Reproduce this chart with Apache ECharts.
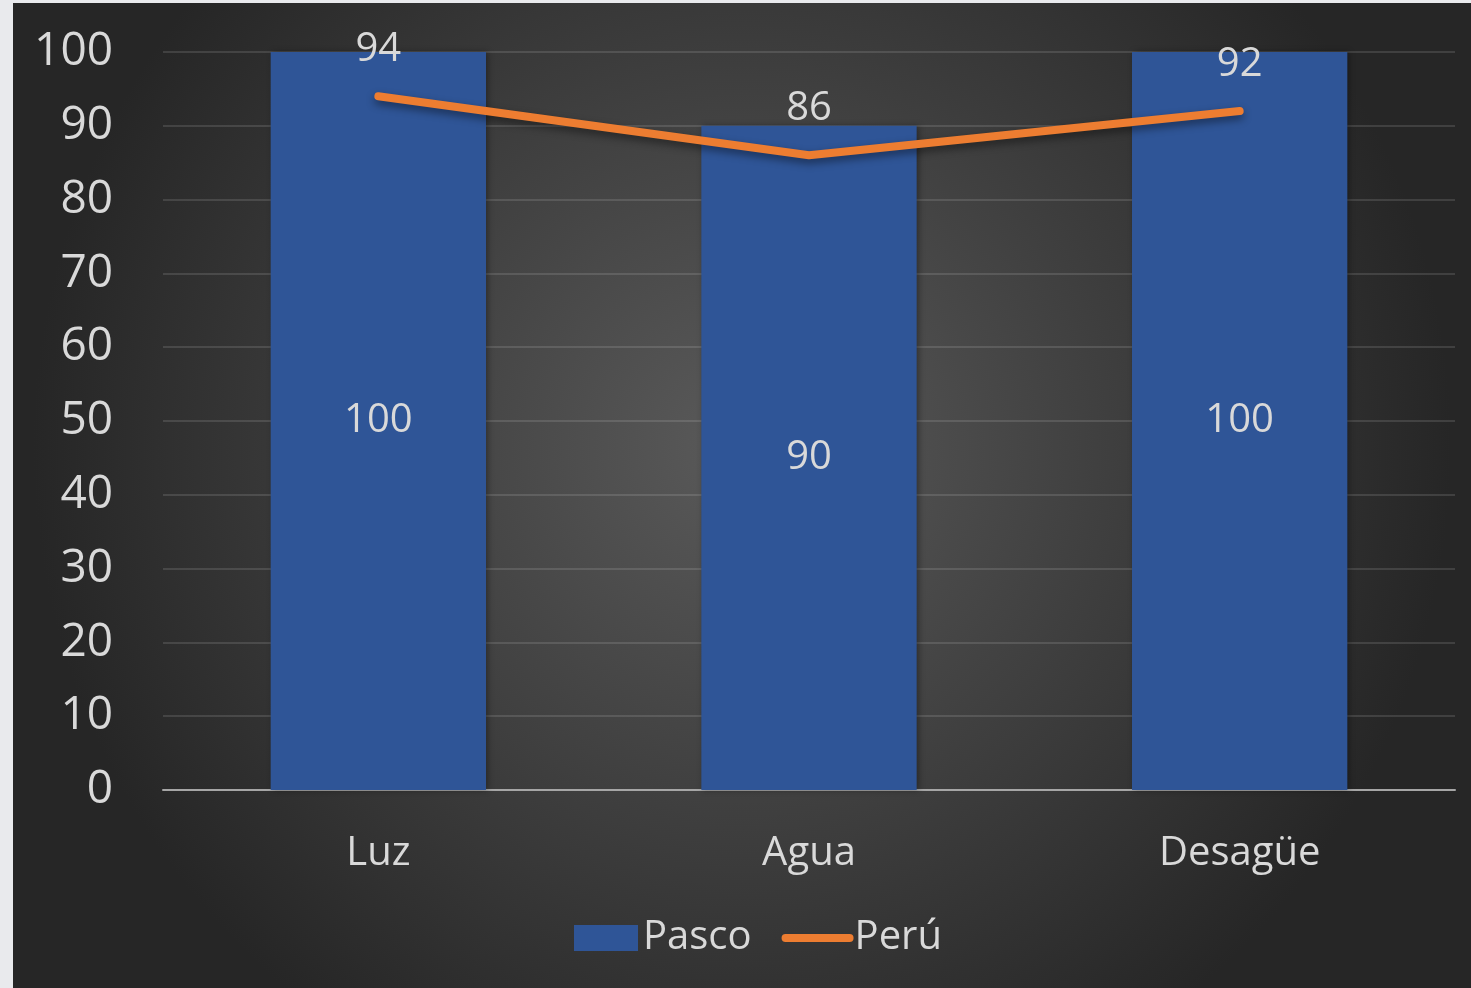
<!DOCTYPE html>
<html>
<head>
<meta charset="utf-8">
<script src="https://cdn.jsdelivr.net/npm/echarts@6/dist/echarts.min.js"></script>
<style>
html,body{margin:0;padding:0;background:#e9eaed;width:1471px;height:988px;overflow:hidden;}
#chart{position:absolute;left:13px;top:3px;width:1458px;height:985px;}
</style>
</head>
<body>
<div id="chart"></div>
<script>
const categories = ['Luz', 'Agua', 'Desagüe'];
const pascoValues = [100, 90, 100];
const peruValues = [94, 86, 92];
const seriesNames = ['Pasco', 'Perú'];

const FONT = '"Open Sans", sans-serif';
const TXT = '#d9d9d9';
const ORANGE = '#ed7d31';
const chart = echarts.init(document.getElementById('chart'));
chart.setOption({
  animation: false,
  backgroundColor: {
    type: 'radial', x: 0.5, y: 0.45, r: 0.72,
    colorStops: [{offset: 0, color: '#5a5a5a'}, {offset: 1, color: '#262626'}]
  },
  textStyle: {fontFamily: FONT},
  grid: {left: 150, right: 16, top: 49, bottom: 198, containLabel: false},
  legend: {
    data: [
      {name: seriesNames[0], icon: 'rect'},
      {name: seriesNames[1], lineStyle: {width: 8, color: ORANGE, cap: 'round'},
        itemStyle: {color: 'rgba(0,0,0,0)', borderWidth: 0, opacity: 0}}
    ],
    bottom: 25, left: 556,
    itemWidth: 64, itemHeight: 26, itemGap: 30,
    textStyle: {color: TXT, fontSize: 40, fontFamily: FONT}
  },
  xAxis: {
    type: 'category', data: categories,
    axisLine: {lineStyle: {color: '#a6a6a6', width: 2}},
    axisTick: {show: false},
    axisLabel: {color: TXT, fontSize: 40, margin: 44, fontFamily: FONT}
  },
  yAxis: {
    type: 'value', min: 0, max: 100, interval: 10,
    axisLine: {show: false}, axisTick: {show: false},
    axisLabel: {color: TXT, fontSize: 46, margin: 50, fontFamily: FONT},
    splitLine: {lineStyle: {color: 'rgba(255,255,255,0.12)', width: 2}}
  },
  series: [
    {
      name: seriesNames[0], type: 'bar', data: pascoValues, barWidth: '50%',
      itemStyle: {color: '#2f5597', shadowColor: 'rgba(0,0,0,0.35)', shadowBlur: 6, shadowOffsetX: 2},
      label: {show: true, position: 'inside', color: TXT, fontSize: 40, fontFamily: FONT}
    },
    {
      name: seriesNames[1], type: 'line', data: peruValues,
      symbol: 'circle', symbolSize: 1, showSymbol: true,
      lineStyle: {color: ORANGE, width: 8, cap: 'round', join: 'round',
        shadowColor: 'rgba(0,0,0,0.45)', shadowBlur: 8, shadowOffsetY: 4},
      itemStyle: {color: ORANGE},
      label: {show: true, position: 'top', distance: 26, color: TXT, opacity: 1, fontSize: 40, fontFamily: FONT},
      z: 5
    }
  ]
});
</script>
</body>
</html>
